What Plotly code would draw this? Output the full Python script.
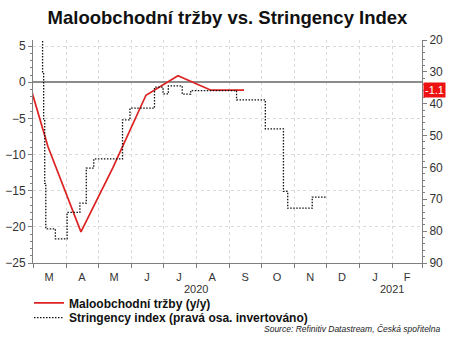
import plotly.graph_objects as go

# Retail sales y/y (monthly, plotted mid-month)
sales_dates = ["2020-02-15", "2020-03-15", "2020-04-15", "2020-05-15", "2020-06-15",
               "2020-07-15", "2020-08-15", "2020-09-15"]
sales_values = [5.7, -8.9, -20.7, -11.8, -1.8, 0.9, -1.1, -1.1]

# Stringency index (change points, step after)
str_dates = ["2020-03-01", "2020-03-10", "2020-03-11", "2020-03-12", "2020-03-13",
             "2020-03-22", "2020-04-02", "2020-04-14", "2020-04-20", "2020-04-27",
             "2020-05-24", "2020-05-31", "2020-06-23", "2020-07-01", "2020-07-06",
             "2020-07-19", "2020-07-27", "2020-09-08", "2020-10-05", "2020-10-22",
             "2020-10-26", "2020-11-18", "2020-12-01"]
str_values = [11.1, 30.0, 45.0, 65.0, 79.3,
              82.4, 74.1, 71.2, 60.2, 57.3,
              45.1, 41.4, 34.8, 36.9, 34.4,
              37.0, 35.9, 38.8, 47.9, 67.5,
              72.8, 69.3, 69.3]

month_ticks = ["2020-03-16", "2020-04-16", "2020-05-16", "2020-06-16", "2020-07-16",
               "2020-08-16", "2020-09-16", "2020-10-16", "2020-11-16", "2020-12-16",
               "2021-01-16", "2021-02-15"]
month_labels = ["M", "A", "M", "J", "J", "A", "S", "O", "N", "D", "J", "F"]
years = ["2020", "2021"]
year_pos = ["2020-08-01", "2021-02-01"]

left_ticks = [5, 0, -5, -10, -15, -20, -25]
right_ticks = [20, 30, 40, 50, 60, 70, 80, 90]

FONT = "Liberation Sans, Arial, sans-serif"
AX = "#7f7f7f"
GRID = "#dadada"
PLOT_L = 33
PLOT_W = 389
PLOT_H = 223.3
AX_Y = 263.3


def py(pix):
    return (AX_Y - pix) / PLOT_H


def px(pix):
    return (pix - PLOT_L) / PLOT_W


fig = go.Figure()
fig.add_trace(go.Scatter(
    x=sales_dates, y=sales_values, mode="lines", name="<b>Maloobchodní tržby (y/y)</b>",
    line=dict(color="#dd2222", width=1.7), yaxis="y", legend="legend"))
fig.add_trace(go.Scatter(
    x=str_dates, y=str_values, mode="lines",
    name="<b>Stringency index (pravá osa. invertováno)</b>",
    line=dict(color="#111111", width=1.3, dash="1.5px,1.5px", shape="hv"),
    yaxis="y2", legend="legend2"))

leg_common = dict(x=px(29), xanchor="left", yanchor="middle", orientation="v",
                  bgcolor="rgba(0,0,0,0)", itemwidth=30,
                  font=dict(family=FONT, size=12, color="#111111"))

fig.update_layout(
    width=456, height=350,
    margin=dict(l=33, r=34, t=40, b=87, autoexpand=False),
    paper_bgcolor="white", plot_bgcolor="white",
    font=dict(family=FONT, size=11, color="#333333"),
    title=dict(text="<b>Maloobchodní tržby vs. Stringency Index</b>",
               x=0.5, xref="paper", xanchor="center",
               y=1 - 17.5 / 350, yanchor="middle",
               font=dict(family=FONT, size=18.5, color="#111111")),
    xaxis=dict(
        type="date", range=["2020-03-01", "2021-03-01"],
        tickmode="array", tickvals=month_ticks, ticktext=month_labels,
        ticks="", showgrid=False, showline=True, linecolor=AX, linewidth=1,
        ticklabelstandoff=4,
        tickfont=dict(size=11, color="#333333"),
        minor=dict(dtick="M1", tick0="2020-03-01", ticks="outside", ticklen=4,
                   tickcolor=AX, showgrid=True, gridcolor=GRID, griddash="dot", gridwidth=1),
        zeroline=False, fixedrange=True, automargin=False),
    yaxis=dict(
        range=[-25, 5.84], tickmode="array", tickvals=left_ticks,
        ticks="outside", ticklen=4, tickcolor=AX,
        showline=True, linecolor=AX, linewidth=1,
        showgrid=True, gridcolor=GRID, griddash="dot", gridwidth=1,
        zeroline=True, zerolinecolor="#8c8c8c", zerolinewidth=1.5,
        minor=dict(dtick=1, ticks="outside", ticklen=2, tickcolor=AX, showgrid=False),
        tickfont=dict(size=12, color="#333333"), automargin=False),
    yaxis2=dict(
        overlaying="y", side="right", range=[90, 20],
        tickmode="array", tickvals=right_ticks,
        ticks="outside", ticklen=4, tickcolor=AX,
        showline=True, linecolor=AX, linewidth=1,
        showgrid=False, zeroline=False,
        minor=dict(dtick=2, ticks="outside", ticklen=2, tickcolor=AX, showgrid=False),
        tickfont=dict(size=12, color="#333333"), automargin=False),
    showlegend=True,
    legend=dict(y=py(303.3), **leg_common),
    legend2=dict(y=py(318), **leg_common),
)

for yr, pos in zip(years, year_pos):
    fig.add_annotation(x=pos, xref="x", y=py(289), yref="paper",
                       text=yr, showarrow=False, yanchor="middle", xanchor="center",
                       font=dict(size=11, color="#333333"))

fig.add_annotation(x=1, xref="paper", xanchor="left", xshift=1,
                   y=sales_values[-1], yref="y", yanchor="middle",
                   text="%.1f" % sales_values[-1], showarrow=False,
                   bgcolor="#ee1111", borderpad=1,
                   font=dict(size=11, color="white"))

fig.add_annotation(x=px(441.7), xref="paper", xanchor="right",
                   y=py(329), yref="paper", yanchor="middle",
                   text="<i>Source: Refinitiv Datastream, Česká spořitelna</i>",
                   showarrow=False, font=dict(size=8.5, color="#222222"))

fig.write_html("out.html")
